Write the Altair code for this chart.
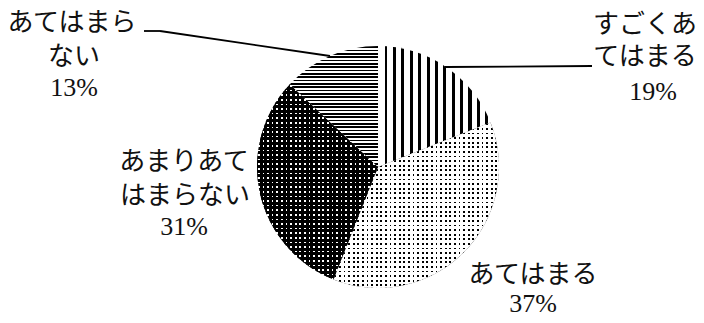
import math
import altair as alt
import pandas as pd

# ---------------- data ----------------
CATEGORIES = ["すごくあてはまる", "あてはまる", "あまりあてはまらない", "あてはまらない"]
VALUES = [19, 37, 31, 13]
ORDER = [0, 1, 2, 3]

LABEL_LINES = [
    "すごくあ", "てはまる", "19%",
    "あてはまる", "37%",
    "あまりあて", "はまらない", "31%",
    "あてはまら", "ない", "13%",
]

# ---------------- layout (page pixels) ----------------
PAD_L, PAD_T, PAD_R, PAD_B = 52, 12, 0, 9
W, H = 636, 294
OX, OY = 8 + PAD_L, 8 + PAD_T          # plot origin on the page
R = 121                                # pie radius

LABEL_POS = [
    (645, 25), (645, 57), (653, 92),
    (533, 275), (533, 304),
    (184, 162), (185, 196), (184, 227),
    (72, 23), (74, 57), (74, 88),
]
LEADERS = [
    ((592, 66), (445, 67)),
    ((445, 67), (445, 72)),
    ((144, 31), (160, 31)),
    ((160, 31), (330, 56)),
]

df = pd.DataFrame({"category": CATEGORIES, "value": VALUES, "order": ORDER})


# ---------------- pattern fills (striped gradients) ----------------
def bbox(a0, a1):
    pts = [(0.0, 0.0)]
    for a in (a0, a1):
        pts.append((R * math.sin(a), -R * math.cos(a)))
    for k in range(0, 5):
        a = k * math.pi / 2
        if a0 <= a <= a1:
            pts.append((R * math.sin(a), -R * math.cos(a)))
    xs = [p[0] for p in pts]
    ys = [p[1] for p in pts]
    return max(xs) - min(xs), max(ys) - min(ys)


def stripes(vertical_bands, length, period, on_w, on_col, off_col, phase=0.5):
    stops = [alt.GradientStop(offset=0, color=off_col)]
    pos = phase
    while pos < length:
        a = pos / length
        b = min((pos + on_w) / length, 1.0)
        stops += [
            alt.GradientStop(offset=round(a, 5), color=off_col),
            alt.GradientStop(offset=round(a, 5), color=on_col),
            alt.GradientStop(offset=round(b, 5), color=on_col),
            alt.GradientStop(offset=round(b, 5), color=off_col),
        ]
        pos += period
    stops.append(alt.GradientStop(offset=1, color=off_col))
    if vertical_bands:
        return alt.LinearGradient(gradient="linear", stops=stops, x1=0, y1=0, x2=1, y2=0)
    return alt.LinearGradient(gradient="linear", stops=stops, x1=0, y1=0, x2=0, y2=1)


cum = [0]
for v in VALUES:
    cum.append(cum[-1] + v)
ang = [c / 100 * 2 * math.pi for c in cum]
boxes = [bbox(ang[i], ang[i + 1]) for i in range(4)]

WHITE, BLACK = "#ffffff", "#000000"
CLEAR_W, CLEAR_B = "rgba(255,255,255,0)", "rgba(0,0,0,0)"
DOT_P, DOT_W = 4.6, 1.7

base = (
    alt.Chart(df)
    .transform_window(cum="sum(value)", sort=[alt.SortField("order")], frame=[None, 0])
    .transform_calculate(start="datum.cum - datum.value")
)
theta = alt.Theta("start:Q", stack=None,
                  scale=alt.Scale(domain=[0, 100], range=[0, 2 * math.pi]))
theta2 = alt.Theta2("cum:Q")


def arc(cat, fill):
    return (
        base.transform_filter(alt.datum.category == cat)
        .mark_arc(outerRadius=R, fill=fill, strokeWidth=0)
        .encode(theta=theta, theta2=theta2)
    )


layers = []
# 1: vertical stripes
layers.append(arc(CATEGORIES[0], stripes(True, boxes[0][0], 8.4, 3.0, BLACK, WHITE, 6.5)))
# 2: light dots (black dots on white)
layers.append(arc(CATEGORIES[1], BLACK))
layers.append(arc(CATEGORIES[1], stripes(False, boxes[1][1], DOT_P, DOT_W, CLEAR_W, WHITE, 1.0)))
layers.append(arc(CATEGORIES[1], stripes(True, boxes[1][0], DOT_P, DOT_W, CLEAR_W, WHITE, 1.0)))
# 3: dark dots (white dots on black)
layers.append(arc(CATEGORIES[2], WHITE))
layers.append(arc(CATEGORIES[2], stripes(False, boxes[2][1], DOT_P, DOT_W, CLEAR_B, BLACK, 1.0)))
layers.append(arc(CATEGORIES[2], stripes(True, boxes[2][0], DOT_P, DOT_W, CLEAR_B, BLACK, 1.0)))
# 4: horizontal stripes
layers.append(arc(CATEGORIES[3], stripes(False, boxes[3][1], 3.33, 1.65, BLACK, WHITE, 0.5)))

# leader lines
for (x1, y1), (x2, y2) in LEADERS:
    layers.append(
        alt.Chart(pd.DataFrame({"k": [0]}))
        .mark_rule(color="black", strokeWidth=1.8)
        .encode(x=alt.value(x1 - OX), y=alt.value(y1 - OY),
                x2=alt.value(x2 - OX), y2=alt.value(y2 - OY))
    )

# labels
lab = pd.DataFrame({
    "text": LABEL_LINES,
    "px": [p[0] - OX for p in LABEL_POS],
    "py": [p[1] - OY for p in LABEL_POS],
})
layers.append(
    alt.Chart(lab)
    .mark_text(font="Liberation Serif, Noto Sans CJK JP", fontSize=26,
               color="#111111", align="center", baseline="middle")
    .encode(x=alt.X("px:Q", scale=None), y=alt.Y("py:Q", scale=None), text="text:N")
)

chart = (
    alt.layer(*layers)
    .properties(width=W, height=H, autosize="none",
                padding={"left": PAD_L, "top": PAD_T, "right": PAD_R, "bottom": PAD_B})
    .configure_view(stroke=None)
)

chart.save("out.html", embed_options={"renderer": "svg", "actions": False})
